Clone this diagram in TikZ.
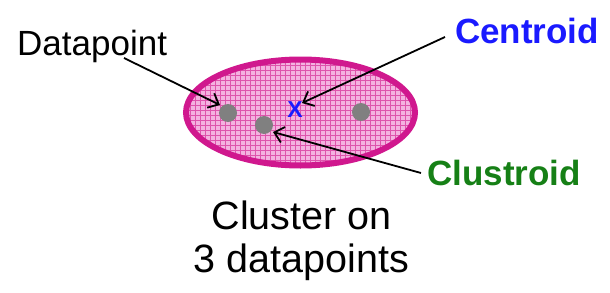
\documentclass[tikz,border=0pt]{standalone}
\usepackage{fontspec}
\setmainfont{Liberation Sans}
\usetikzlibrary{arrows.meta}
\definecolor{clborder}{RGB}{208,24,142}
\definecolor{clfill}{RGB}{244,178,224}
\definecolor{clgrid}{RGB}{222,84,172}
\definecolor{cblue}{RGB}{26,26,255}
\definecolor{cgreen}{RGB}{22,128,22}
\definecolor{dotgray}{RGB}{128,128,128}
\tikzset{
  lbl/.style={inner sep=0pt, anchor=base west, font=\fontsize{35}{37}\selectfont},
  blbl/.style={lbl, font=\fontsize{35}{37}\selectfont\bfseries},
  caplbl/.style={lbl, anchor=base, font=\fontsize{39.5}{42}\selectfont},
  dp/.style={circle, fill=dotgray, minimum size=18pt, inner sep=0pt},
  pointer/.style={draw=black, line width=1.8pt, -{Straight Barb[length=9pt,width=16pt,line width=1.8pt]}}
}
\begin{document}
\begin{tikzpicture}[x=1pt,y=-1pt]
\useasboundingbox (0,0) rectangle (610,292);
% cluster ellipse
\begin{scope}
  \clip (300.5,112.5) ellipse [x radius=114.5, y radius=53];
  \fill[clfill] (180,55) rectangle (425,170);
  \draw[clgrid, line width=0.5pt, step=5pt] (180,55) grid (425,170);
\end{scope}
\draw[clborder, line width=6pt] (300.5,112.5) ellipse [x radius=114.5, y radius=53];
% datapoints
\node[dp] (d1) at (228,113) {};
\node[dp] (d2) at (264,125) {};
\node[dp] (d3) at (361,112) {};
\node[inner sep=0pt, text=cblue, font=\fontsize{23}{23}\selectfont\bfseries] (cx) at (295,110) {X};
% labels
\node[lbl] (tdp) at (17,55) {Datapoint};
\node[blbl, text=cblue] (tcen) at (455,43) {Centroid};
\node[blbl, text=cgreen] (tclu) at (427,185) {Clustroid};
\node[caplbl] (cap1) at (301.5,229.5) {Cluster on};
\node[caplbl] (cap2) at (301.5,272.5) {3 datapoints};
% arrow ends
\coordinate (sdp) at (124,58);
\coordinate (edp) at (220,105);
\coordinate (scen) at (445,37);
\coordinate (ecen) at (302,103);
\coordinate (sclu) at (421,173);
\coordinate (eclu) at (273,132);
\draw[pointer] (sdp) -- (edp);
\draw[pointer] (scen) -- (ecen);
\draw[pointer] (sclu) -- (eclu);
\end{tikzpicture}
\end{document}
